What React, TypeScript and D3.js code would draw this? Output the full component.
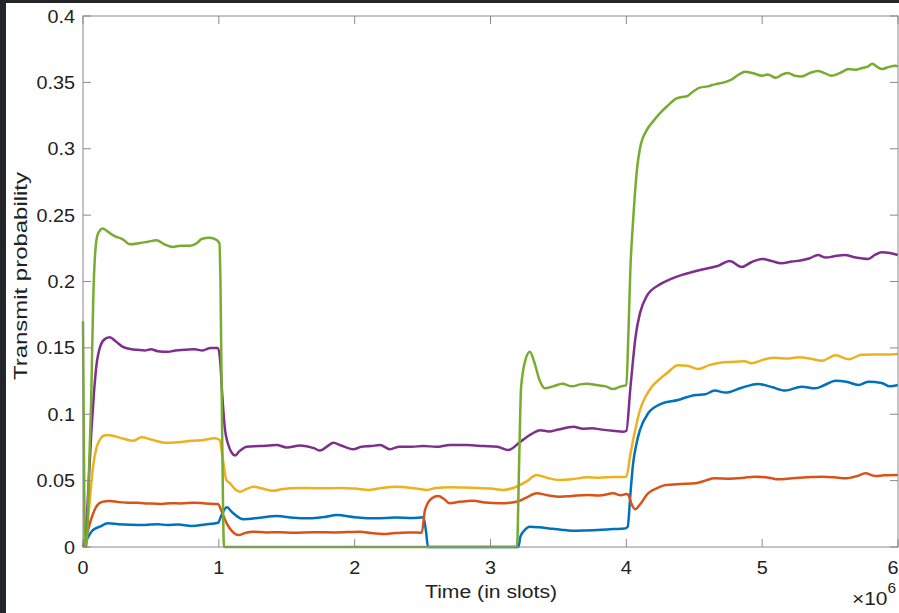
import React, { useEffect, useRef } from "react";
import * as d3 from "d3";

// time in millions of slots, transmit probability
const blue: [number, number][] = [
  [0, 0], [0.03, 0.006], [0.07, 0.0125], [0.123, 0.0153], [0.184, 0.0178], [0.26, 0.0172], [0.35, 0.0168],
  [0.454, 0.0166], [0.55, 0.0172], [0.62, 0.0165], [0.7, 0.017], [0.8, 0.0158], [0.9, 0.017], [0.994, 0.0183],
  [1.02, 0.024], [1.058, 0.0299], [1.1, 0.026], [1.18, 0.0209], [1.3, 0.022], [1.426, 0.0234], [1.55, 0.022],
  [1.67, 0.0216], [1.77, 0.0225], [1.87, 0.0241], [2.0, 0.0225], [2.16, 0.0216], [2.3, 0.0222], [2.42, 0.0218],
  [2.506, 0.0224], [2.525, 0.012], [2.54, 0], [3.205, 0], [3.22, 0.0078], [3.25, 0.0125], [3.29, 0.0153],
  [3.36, 0.0148], [3.43, 0.014], [3.52, 0.013], [3.6, 0.0123], [3.7, 0.0125], [3.79, 0.0128], [3.9, 0.0135],
  [3.99, 0.014], [4.01, 0.0153], [4.03, 0.04], [4.05, 0.063], [4.075, 0.078], [4.1, 0.088], [4.16, 0.1007],
  [4.26, 0.108], [4.38, 0.1107], [4.45, 0.113], [4.51, 0.1145], [4.58, 0.115], [4.65, 0.1178], [4.73, 0.1163],
  [4.85, 0.12], [4.97, 0.1228], [5.07, 0.1205], [5.17, 0.1178], [5.29, 0.1208], [5.39, 0.1195], [5.46, 0.122],
  [5.54, 0.1253], [5.62, 0.1245], [5.71, 0.122], [5.78, 0.1245], [5.88, 0.1235], [5.94, 0.121], [6.0, 0.122]
];

const red: [number, number][] = [
  [0, 0], [0.03, 0.01], [0.06, 0.021], [0.098, 0.0304], [0.14, 0.034], [0.197, 0.0347], [0.26, 0.0338],
  [0.33, 0.0334], [0.4, 0.0333], [0.48, 0.0328], [0.577, 0.0324], [0.65, 0.033], [0.72, 0.0328], [0.82, 0.0334],
  [0.9, 0.0328], [0.994, 0.0324], [1.02, 0.027], [1.058, 0.0178], [1.1, 0.0115], [1.143, 0.009], [1.2, 0.0108],
  [1.254, 0.0115], [1.35, 0.011], [1.45, 0.0112], [1.55, 0.0108], [1.7, 0.0112], [1.85, 0.011], [2.04, 0.0115],
  [2.12, 0.0105], [2.21, 0.0098], [2.3, 0.0105], [2.4, 0.011], [2.494, 0.0108], [2.518, 0.0279], [2.568, 0.0367],
  [2.616, 0.0384], [2.66, 0.036], [2.7, 0.0329], [2.77, 0.034], [2.874, 0.0349], [2.96, 0.0335], [3.07, 0.0329],
  [3.19, 0.0341], [3.26, 0.037], [3.34, 0.0404], [3.42, 0.039], [3.51, 0.0379], [3.6, 0.0385], [3.71, 0.0392],
  [3.8, 0.0388], [3.905, 0.0404], [3.96, 0.039], [4.0, 0.0399], [4.015, 0.0392], [4.04, 0.032], [4.065, 0.0284],
  [4.1, 0.032], [4.16, 0.0404], [4.22, 0.044], [4.29, 0.0467], [4.4, 0.0475], [4.51, 0.048], [4.58, 0.05],
  [4.65, 0.0517], [4.75, 0.0515], [4.85, 0.052], [4.95, 0.053], [5.05, 0.0522], [5.12, 0.051], [5.22, 0.0518],
  [5.33, 0.0525], [5.44, 0.053], [5.53, 0.0525], [5.61, 0.0517], [5.7, 0.0535], [5.76, 0.0555], [5.83, 0.0535],
  [5.9, 0.054], [6.0, 0.0542]
];

const yellow: [number, number][] = [
  [0, 0], [0.025, 0.01], [0.05, 0.035], [0.074, 0.0605], [0.1, 0.075], [0.123, 0.0806], [0.155, 0.084],
  [0.184, 0.0844], [0.23, 0.0835], [0.3, 0.0815], [0.368, 0.08], [0.43, 0.0826], [0.5, 0.081], [0.6, 0.0786],
  [0.7, 0.079], [0.8, 0.08], [0.88, 0.0805], [0.97, 0.0819], [1.006, 0.0806], [1.03, 0.066], [1.055, 0.0505],
  [1.082, 0.048], [1.12, 0.0435], [1.156, 0.0417], [1.2, 0.0435], [1.254, 0.0454], [1.32, 0.044], [1.4, 0.0424],
  [1.46, 0.0435], [1.524, 0.0442], [1.6, 0.0445], [1.7, 0.0443], [1.795, 0.0442], [1.9, 0.0445], [2.0, 0.044],
  [2.11, 0.043], [2.2, 0.0445], [2.31, 0.0454], [2.42, 0.0445], [2.53, 0.043], [2.6, 0.0445], [2.7, 0.045],
  [2.8, 0.0448], [2.9, 0.0445], [3.0, 0.044], [3.095, 0.043], [3.19, 0.0454], [3.26, 0.049], [3.34, 0.0542],
  [3.42, 0.052], [3.51, 0.0505], [3.6, 0.051], [3.71, 0.0525], [3.8, 0.0522], [3.9, 0.0527], [4.0, 0.053],
  [4.03, 0.07], [4.065, 0.088], [4.1, 0.103], [4.14, 0.113], [4.19, 0.121], [4.24, 0.126], [4.3, 0.131],
  [4.38, 0.137], [4.45, 0.1365], [4.53, 0.134], [4.61, 0.137], [4.7, 0.139], [4.8, 0.1395], [4.87, 0.14],
  [4.92, 0.1384], [5.02, 0.1414], [5.1, 0.1425], [5.18, 0.142], [5.27, 0.1429], [5.35, 0.142], [5.44, 0.1403],
  [5.54, 0.1444], [5.64, 0.1414], [5.73, 0.1449], [5.82, 0.145], [5.91, 0.145], [6.0, 0.1454]
];

const purple: [number, number][] = [
  [0, 0], [0.02, 0.01], [0.04, 0.045], [0.061, 0.086], [0.08, 0.115], [0.098, 0.136], [0.13, 0.152],
  [0.165, 0.157], [0.197, 0.158], [0.24, 0.155], [0.29, 0.151], [0.356, 0.149], [0.4, 0.1485], [0.454, 0.148],
  [0.5, 0.149], [0.55, 0.1475], [0.626, 0.147], [0.68, 0.148], [0.75, 0.1485], [0.82, 0.149], [0.88, 0.148],
  [0.94, 0.15], [0.994, 0.15], [1.01, 0.14], [1.025, 0.115], [1.043, 0.0906], [1.07, 0.077], [1.095, 0.071],
  [1.12, 0.069], [1.15, 0.072], [1.205, 0.0756], [1.3, 0.076], [1.426, 0.0768], [1.5, 0.075], [1.6, 0.0765],
  [1.7, 0.0745], [1.745, 0.0726], [1.8, 0.076], [1.843, 0.0786], [1.9, 0.0765], [1.99, 0.0736], [2.05, 0.0755],
  [2.12, 0.076], [2.187, 0.0768], [2.26, 0.0736], [2.33, 0.0756], [2.42, 0.0755], [2.506, 0.0761], [2.6, 0.0755],
  [2.7, 0.0768], [2.83, 0.0768], [2.95, 0.076], [3.05, 0.0755], [3.13, 0.073], [3.22, 0.0793], [3.3, 0.085],
  [3.365, 0.088], [3.43, 0.087], [3.5, 0.0885], [3.61, 0.0906], [3.68, 0.089], [3.75, 0.0895], [3.807, 0.0886],
  [3.9, 0.0875], [3.98, 0.0869], [4.0, 0.0874], [4.03, 0.12], [4.07, 0.16], [4.1, 0.176], [4.15, 0.189],
  [4.25, 0.198], [4.33, 0.202], [4.41, 0.205], [4.5, 0.2075], [4.6, 0.21], [4.68, 0.212],
  [4.76, 0.2155], [4.85, 0.211], [4.92, 0.2145], [5.0, 0.217], [5.07, 0.2155], [5.14, 0.2137], [5.22, 0.215],
  [5.29, 0.216], [5.35, 0.2175], [5.41, 0.22], [5.47, 0.218], [5.53, 0.219], [5.61, 0.22], [5.67, 0.2185],
  [5.73, 0.2175], [5.78, 0.217], [5.83, 0.22], [5.88, 0.222], [5.94, 0.2215], [6.0, 0.22]
];

const green: [number, number][] = [
  [0, 0.17], [0.012, 0.003], [0.025, 0], [0.045, 0.06], [0.06, 0.11], [0.075, 0.185], [0.09, 0.222],
  [0.11, 0.236], [0.145, 0.24], [0.19, 0.237], [0.236, 0.234], [0.29, 0.232], [0.346, 0.228], [0.42, 0.229],
  [0.48, 0.23], [0.54, 0.231], [0.6, 0.228], [0.66, 0.226], [0.72, 0.227], [0.79, 0.227], [0.84, 0.229],
  [0.874, 0.232], [0.93, 0.233], [0.97, 0.232], [1.004, 0.229], [1.012, 0.2], [1.025, 0.08], [1.038, 0],
  [3.195, 0], [3.21, 0.06], [3.225, 0.12], [3.26, 0.142], [3.29, 0.147], [3.32, 0.14], [3.36, 0.126],
  [3.4, 0.1195], [3.46, 0.121], [3.53, 0.123], [3.6, 0.121], [3.66, 0.1225], [3.71, 0.123], [3.78, 0.122],
  [3.85, 0.121], [3.9, 0.119], [3.96, 0.121], [4.0, 0.122], [4.015, 0.16], [4.03, 0.21], [4.05, 0.246],
  [4.08, 0.286], [4.1, 0.3], [4.15, 0.314], [4.2, 0.321], [4.25, 0.327], [4.3, 0.332], [4.37, 0.338],
  [4.41, 0.339], [4.445, 0.3395], [4.49, 0.343], [4.54, 0.346], [4.6, 0.347], [4.65, 0.3485], [4.72, 0.35],
  [4.78, 0.3525], [4.83, 0.356], [4.875, 0.358], [4.93, 0.357], [5.0, 0.355], [5.04, 0.356], [5.1, 0.3535],
  [5.15, 0.356], [5.19, 0.357], [5.24, 0.355], [5.29, 0.3545], [5.35, 0.357], [5.41, 0.3586], [5.46, 0.357],
  [5.51, 0.355], [5.57, 0.357], [5.64, 0.36], [5.69, 0.3595], [5.73, 0.3606], [5.78, 0.362], [5.81, 0.364],
  [5.85, 0.3615], [5.88, 0.36], [5.93, 0.3615], [5.98, 0.3626], [6.0, 0.362]
];

const series = [blue, red, yellow, purple, green];
const colors = ["#0072BD", "#D95319", "#EDB120", "#7E2F8E", "#77AC30"];
const xTicks = [0, 1, 2, 3, 4, 5, 6];
const yTicks = [0, 0.05, 0.1, 0.15, 0.2, 0.25, 0.3, 0.35, 0.4];

const W = 899;
const H = 613;

export default function App() {
  const ref = useRef<SVGSVGElement>(null);

  useEffect(() => {
    const svg = d3.select(ref.current);
    svg.selectAll("*").remove();

    const left = 83, right = 898, top = 16, bottom = 547;
    const x = d3.scaleLinear().domain([0, 6]).range([left, right]);
    const y = d3.scaleLinear().domain([0, 0.4]).range([bottom, top]);
    const axisColor = "#8a8a8a";
    const textColor = "#222222";
    const font = "'Liberation Sans', Arial, sans-serif";
    const tickLen = 8;

    // dark frame around the white figure
    svg.append("rect").attr("width", W).attr("height", H).attr("fill", "#23252b");
    svg.append("rect").attr("x", 6).attr("y", 3).attr("width", W - 6).attr("height", H - 3).attr("fill", "#ffffff");

    // lines
    const line = d3
      .line<[number, number]>()
      .x(d => x(d[0]))
      .y(d => y(d[1]))
      .curve(d3.curveMonotoneX);

    const plot = svg.append("g");
    series.forEach((s, i) => {
      plot
        .append("path")
        .attr("d", line(s))
        .attr("fill", "none")
        .attr("stroke", colors[i])
        .attr("stroke-width", 2.5)
        .attr("stroke-linejoin", "round");
    });

    // box
    const ax = svg.append("g").attr("stroke", axisColor).attr("stroke-width", 1).attr("fill", "none");
    ax.append("rect").attr("x", left).attr("y", top).attr("width", right - left).attr("height", bottom - top);

    xTicks.forEach(t => {
      ax.append("line").attr("x1", x(t)).attr("x2", x(t)).attr("y1", bottom).attr("y2", bottom - tickLen);
      ax.append("line").attr("x1", x(t)).attr("x2", x(t)).attr("y1", top).attr("y2", top + tickLen);
    });
    yTicks.forEach(t => {
      ax.append("line").attr("x1", left).attr("x2", left + tickLen).attr("y1", y(t)).attr("y2", y(t));
      ax.append("line").attr("x1", right).attr("x2", right - tickLen).attr("y1", y(t)).attr("y2", y(t));
    });

    // tick labels
    const labels = svg.append("g").attr("font-family", font).attr("font-size", 18).attr("fill", textColor);
    yTicks.forEach(t => {
      labels
        .append("g")
        .attr("transform", `translate(75,${y(t) + 6.5}) scale(1.1,1)`)
        .append("text")
        .attr("text-anchor", "end")
        .text(d3.format("~g")(t));
    });
    xTicks.forEach(t => {
      // last label is pushed just inside the page edge
      const px = Math.min(x(t), W - 6);
      labels
        .append("g")
        .attr("transform", `translate(${px},574) scale(1.1,1)`)
        .append("text")
        .attr("text-anchor", "middle")
        .text(String(t));
    });

    // axis titles
    labels
      .append("text")
      .attr("x", 491)
      .attr("y", 598)
      .attr("text-anchor", "middle")
      .attr("textLength", 132)
      .attr("lengthAdjust", "spacingAndGlyphs")
      .text("Time (in slots)");

    labels
      .append("text")
      .attr("transform", "translate(27,276) rotate(-90)")
      .attr("text-anchor", "middle")
      .attr("textLength", 208)
      .attr("lengthAdjust", "spacingAndGlyphs")
      .text("Transmit probability");

    // exponent
    const expo = labels
      .append("g")
      .attr("transform", "translate(852,605) scale(1.1,1)")
      .append("text")
      .attr("font-size", 19);
    expo.append("tspan").text("\u00d710");
    expo.append("tspan").attr("dy", -12).attr("font-size", 14).text("6");
  }, []);

  return (
    <svg
      ref={ref}
      width={W}
      height={H}
      style={{ position: "absolute", left: 0, top: 0, display: "block" }}
    />
  );
}
